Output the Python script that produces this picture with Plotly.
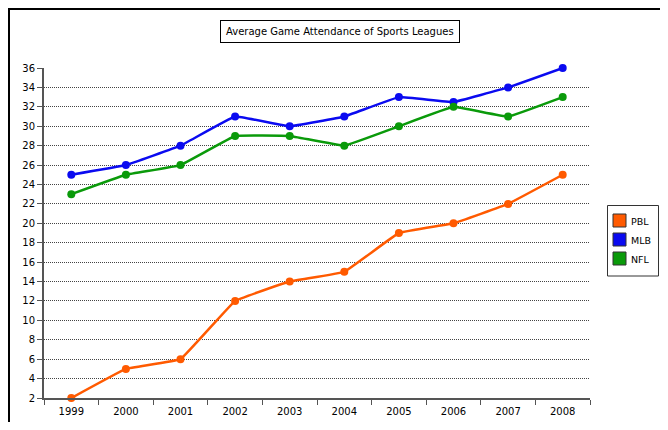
import plotly.graph_objects as go

years = ["1999", "2000", "2001", "2002", "2003", "2004", "2005", "2006", "2007", "2008"]
pbl = [2, 5, 6, 12, 14, 15, 19, 20, 22, 25]
mlb = [25, 26, 28, 31, 30, 31, 33, 32.5, 34, 36]
nfl = [23, 25, 26, 29, 29, 28, 30, 32, 31, 33]
y_ticks = list(range(2, 37, 2))

series = [("PBL", pbl, "#FF5A00"), ("MLB", mlb, "#0A0AF0"), ("NFL", nfl, "#0A9A0A")]

# page offset of the figure (body margin) is 8px; work in figure pixel coords
OFF = 8
W, H = 668 - 2 * OFF, 430 - 2 * OFF
L, T = 44 - OFF, 68 - OFF
R = W - (590 - OFF)
B = H - (398 - OFF)
pw, ph = W - L - R, H - T - B

fig = go.Figure()
for name, vals, col in series:
    fig.add_trace(go.Scatter(
        x=years, y=vals, mode="lines+markers", name=name,
        line=dict(color=col, width=2.5, shape="spline", smoothing=0.2),
        marker=dict(color=col, size=8),
        showlegend=False, cliponaxis=False,
    ))

def px_x(px):
    return (px - OFF - L) / pw

def px_y(py):
    return (H - B - (py - OFF)) / ph

shapes = [
    dict(type="line", xref="paper", yref="paper",
         x0=px_x(OFF + 1), x1=px_x(OFF + 1), y0=px_y(500), y1=px_y(OFF + 1),
         line=dict(color="black", width=2), layer="below"),
    dict(type="line", xref="paper", yref="paper",
         x0=px_x(OFF), x1=px_x(720), y0=px_y(OFF + 1), y1=px_y(OFF + 1),
         line=dict(color="black", width=2), layer="below"),
    dict(type="rect", xref="paper", yref="paper",
         x0=px_x(607.5), x1=px_x(658.5), y0=px_y(276), y1=px_y(205.5),
         line=dict(color="#333", width=1), fillcolor="white", layer="above"),
]
annotations = [dict(
    text="Average Game Attendance of Sports Leagues",
    xref="paper", yref="paper", x=px_x(340), y=px_y(32),
    xanchor="center", yanchor="middle", showarrow=False,
    font=dict(size=10), bordercolor="black", borderwidth=1,
    borderpad=5, bgcolor="white",
)]
leg_centers = [220.5, 239.5, 258.5]
for (name, _, col), cy in zip(series, leg_centers):
    shapes.append(dict(
        type="rect", xref="paper", yref="paper",
        x0=px_x(613), x1=px_x(626), y0=px_y(cy + 6.5), y1=px_y(cy - 6.5),
        line=dict(color="#333", width=1), fillcolor=col, layer="above"))
    annotations.append(dict(
        text=name, xref="paper", yref="paper", x=px_x(629), y=px_y(cy + 0.5),
        xanchor="left", yanchor="middle", showarrow=False,
        font=dict(size=9.5)))

fig.update_layout(
    width=W, height=H,
    margin=dict(l=L, r=R, t=T, b=B, autoexpand=False),
    paper_bgcolor="white", plot_bgcolor="white",
    font=dict(family="DejaVu Sans", size=10, color="black"),
    showlegend=False,
    xaxis=dict(
        type="category", range=[-0.5, 9.5], showgrid=False,
        showline=True, linecolor="#555", linewidth=2,
        ticks="outside", tickson="boundaries", ticklen=5, tickcolor="#555",
        tickfont=dict(size=10), zeroline=False, fixedrange=True,
        ticklabelstandoff=3,
    ),
    yaxis=dict(
        range=[2, 36], tickvals=y_ticks, showgrid=True,
        gridcolor="#444", griddash="1px,1px", gridwidth=1,
        showline=True, linecolor="#555", linewidth=2,
        ticks="outside", ticklen=5, tickcolor="#555",
        tickfont=dict(size=10), zeroline=False, fixedrange=True,
    ),
    annotations=annotations,
    shapes=shapes,
)

fig.write_html("out.html")
